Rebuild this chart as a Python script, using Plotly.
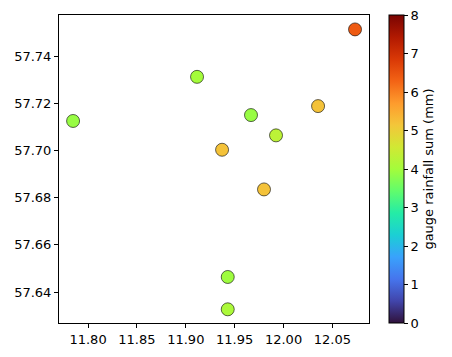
import plotly.graph_objects as go

lon = [12.0731, 11.9115, 11.7847, 11.9667, 12.0353, 11.9923, 11.9371, 11.9800, 11.9429, 11.9429]
lat = [57.7513, 57.7312, 57.7125, 57.7150, 57.7188, 57.7064, 57.7003, 57.6835, 57.6464, 57.6327]
rain = [6.4, 4.0, 3.9, 3.9, 5.2, 4.3, 5.2, 5.2, 3.95, 4.1]

xticks = [11.80, 11.85, 11.90, 11.95, 12.00, 12.05]
yticks = [57.64, 57.66, 57.68, 57.70, 57.72, 57.74]
cticks = [0, 1, 2, 3, 4, 5, 6, 7, 8]

fig = go.Figure(go.Scatter(
    x=lon, y=lat, mode="markers",
    marker=dict(
        size=13, color=rain, colorscale="Turbo", cmin=0, cmax=8,
        line=dict(color="black", width=0.6),
        colorbar=dict(
            title=dict(text="gauge rainfall sum (mm)", side="right",
                       font=dict(size=13, color="black")),
            x=1.0645, xanchor="left", xref="paper", xpad=0, ypad=0,
            y=0.5, yanchor="middle", len=1, lenmode="fraction",
            thickness=15, outlinecolor="black", outlinewidth=1,
            tickvals=cticks, ticks="outside", ticklen=4, tickcolor="black",
            tickfont=dict(size=13, color="black"),
            ticklabeloverflow="allow",
        ),
    ),
    showlegend=False,
))

axis_common = dict(
    showgrid=False, zeroline=False, showline=True, linecolor="black",
    linewidth=1, mirror=True, ticks="outside", ticklen=4, tickcolor="black",
    tickfont=dict(size=13, color="black"), tickformat=".2f",
)
fig.update_xaxes(range=[11.7703, 12.0874], tickvals=xticks, **axis_common)
fig.update_yaxes(range=[57.6269, 57.7574], tickvals=yticks, **axis_common)

# page body has an 8px default margin, so the figure is offset by 8px
fig.update_layout(
    width=444, height=349,
    margin=dict(l=51, r=83, t=7, b=34, autoexpand=False),
    paper_bgcolor="white", plot_bgcolor="white",
    font=dict(family="DejaVu Sans", size=13, color="black"),
)

fig.write_html("out.html")
